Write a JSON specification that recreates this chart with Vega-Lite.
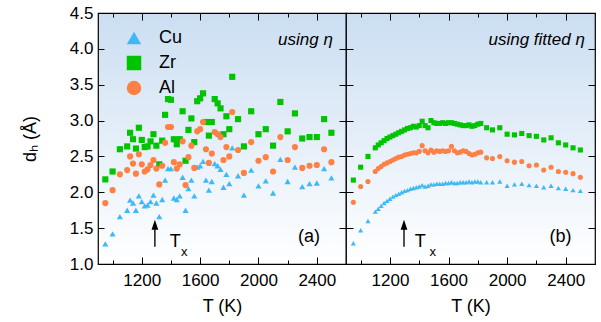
{
 "$schema": "https://vega.github.io/schema/vega-lite/v6.json",
 "padding": {"left": 20, "top": 3, "right": 5, "bottom": 3},
 "background": "white",
 "spacing": 0,
 "bounds": "flush",
 "config": {
  "font": "Liberation Sans",
  "view": {"stroke": "black", "strokeWidth": 1.2, "fill": {"gradient": "linear", "x1": 0, "y1": 0, "x2": 0, "y2": 1, "stops": [{"offset": 0, "color": "#cbdef2"}, {"offset": 1, "color": "#ffffff"}]}},
  "axis": {"domain": false, "grid": false, "ticks": true, "tickColor": "black", "tickWidth": 1, "labelFont": "Liberation Sans", "labelFontSize": 17, "labelColor": "black", "titleFont": "Liberation Sans", "titleFontSize": 18, "titleFontWeight": "normal", "titleColor": "black", "labelFlush": false, "labelOverlap": false, "minExtent": 0},
  "legend": {"title": null, "symbolSize": 210, "labelFont": "Liberation Sans", "labelFontSize": 18, "labelColor": "black", "rowPadding": 7, "padding": 0, "symbolStrokeWidth": 0, "symbolOpacity": 1},
  "text": {"font": "Liberation Sans", "color": "black"}
 },
 "datasets": {
  "a": [
   {"T":950,"el":"Cu","d":1.28},{"T":1000,"el":"Cu","d":1.42},{"T":1050,"el":"Cu","d":1.66},{"T":1100,"el":"Cu","d":1.75},{"T":1120,"el":"Cu","d":1.89},{"T":1140,"el":"Cu","d":1.85},{"T":1160,"el":"Cu","d":1.75},{"T":1180,"el":"Cu","d":1.95},{"T":1200,"el":"Cu","d":1.87},{"T":1220,"el":"Cu","d":1.81},{"T":1240,"el":"Cu","d":1.82},{"T":1260,"el":"Cu","d":1.87},{"T":1280,"el":"Cu","d":1.96},{"T":1300,"el":"Cu","d":1.85},{"T":1320,"el":"Cu","d":1.66},{"T":1340,"el":"Cu","d":1.90},{"T":1360,"el":"Cu","d":2.17},{"T":1380,"el":"Cu","d":2.33},{"T":1400,"el":"Cu","d":2.33},{"T":1420,"el":"Cu","d":1.92},{"T":1440,"el":"Cu","d":1.90},{"T":1460,"el":"Cu","d":1.95},{"T":1480,"el":"Cu","d":2.21},{"T":1500,"el":"Cu","d":1.75},{"T":1520,"el":"Cu","d":2.05},{"T":1540,"el":"Cu","d":2.17},{"T":1560,"el":"Cu","d":1.95},{"T":1580,"el":"Cu","d":2.35},{"T":1600,"el":"Cu","d":2.37},{"T":1620,"el":"Cu","d":2.43},{"T":1640,"el":"Cu","d":2.17},{"T":1660,"el":"Cu","d":2.03},{"T":1680,"el":"Cu","d":2.15},{"T":1700,"el":"Cu","d":2.40},{"T":1720,"el":"Cu","d":2.37},{"T":1740,"el":"Cu","d":2.32},{"T":1760,"el":"Cu","d":2.07},{"T":1780,"el":"Cu","d":2.25},{"T":1800,"el":"Cu","d":2.12},{"T":1820,"el":"Cu","d":2.62},{"T":1860,"el":"Cu","d":2.23},{"T":1900,"el":"Cu","d":1.96},{"T":1950,"el":"Cu","d":2.31},{"T":2000,"el":"Cu","d":2.09},{"T":2050,"el":"Cu","d":2.16},{"T":2100,"el":"Cu","d":1.99},{"T":2150,"el":"Cu","d":2.46},{"T":2200,"el":"Cu","d":2.15},{"T":2250,"el":"Cu","d":2.35},{"T":2300,"el":"Cu","d":2.08},{"T":2350,"el":"Cu","d":2.12},{"T":2400,"el":"Cu","d":2.13},{"T":2450,"el":"Cu","d":2.33},{"T":2500,"el":"Cu","d":2.20},
   {"T":950,"el":"Zr","d":2.18},{"T":1000,"el":"Zr","d":2.29},{"T":1050,"el":"Zr","d":2.60},{"T":1100,"el":"Zr","d":2.64},{"T":1120,"el":"Zr","d":2.83},{"T":1140,"el":"Zr","d":2.74},{"T":1160,"el":"Zr","d":2.61},{"T":1180,"el":"Zr","d":2.90},{"T":1200,"el":"Zr","d":2.73},{"T":1220,"el":"Zr","d":2.63},{"T":1240,"el":"Zr","d":2.64},{"T":1260,"el":"Zr","d":2.71},{"T":1280,"el":"Zr","d":2.81},{"T":1300,"el":"Zr","d":2.65},{"T":1320,"el":"Zr","d":2.39},{"T":1340,"el":"Zr","d":2.72},{"T":1360,"el":"Zr","d":3.08},{"T":1380,"el":"Zr","d":3.30},{"T":1400,"el":"Zr","d":3.29},{"T":1420,"el":"Zr","d":2.74},{"T":1440,"el":"Zr","d":2.67},{"T":1460,"el":"Zr","d":2.74},{"T":1480,"el":"Zr","d":3.13},{"T":1500,"el":"Zr","d":2.44},{"T":1520,"el":"Zr","d":2.87},{"T":1540,"el":"Zr","d":3.03},{"T":1560,"el":"Zr","d":2.70},{"T":1580,"el":"Zr","d":3.27},{"T":1600,"el":"Zr","d":3.31},{"T":1620,"el":"Zr","d":3.38},{"T":1640,"el":"Zr","d":2.98},{"T":1660,"el":"Zr","d":2.79},{"T":1680,"el":"Zr","d":2.98},{"T":1700,"el":"Zr","d":3.30},{"T":1720,"el":"Zr","d":3.24},{"T":1740,"el":"Zr","d":3.17},{"T":1760,"el":"Zr","d":2.81},{"T":1780,"el":"Zr","d":3.06},{"T":1800,"el":"Zr","d":2.88},{"T":1820,"el":"Zr","d":3.61},{"T":1860,"el":"Zr","d":3.02},{"T":1900,"el":"Zr","d":2.64},{"T":1950,"el":"Zr","d":3.13},{"T":2000,"el":"Zr","d":2.81},{"T":2050,"el":"Zr","d":2.88},{"T":2100,"el":"Zr","d":2.65},{"T":2150,"el":"Zr","d":3.26},{"T":2200,"el":"Zr","d":2.85},{"T":2250,"el":"Zr","d":3.10},{"T":2300,"el":"Zr","d":2.75},{"T":2350,"el":"Zr","d":2.77},{"T":2400,"el":"Zr","d":2.77},{"T":2450,"el":"Zr","d":3.02},{"T":2500,"el":"Zr","d":2.83},
   {"T":950,"el":"Al","d":1.85},{"T":1000,"el":"Al","d":2.03},{"T":1050,"el":"Al","d":2.25},{"T":1100,"el":"Al","d":2.31},{"T":1120,"el":"Al","d":2.50},{"T":1140,"el":"Al","d":2.40},{"T":1160,"el":"Al","d":2.26},{"T":1180,"el":"Al","d":2.53},{"T":1200,"el":"Al","d":2.39},{"T":1220,"el":"Al","d":2.29},{"T":1240,"el":"Al","d":2.32},{"T":1260,"el":"Al","d":2.38},{"T":1280,"el":"Al","d":2.45},{"T":1300,"el":"Al","d":2.33},{"T":1320,"el":"Al","d":2.11},{"T":1340,"el":"Al","d":2.37},{"T":1360,"el":"Al","d":2.69},{"T":1380,"el":"Al","d":2.91},{"T":1400,"el":"Al","d":2.91},{"T":1420,"el":"Al","d":2.42},{"T":1440,"el":"Al","d":2.33},{"T":1460,"el":"Al","d":2.39},{"T":1480,"el":"Al","d":2.71},{"T":1500,"el":"Al","d":2.10},{"T":1520,"el":"Al","d":2.49},{"T":1540,"el":"Al","d":2.65},{"T":1560,"el":"Al","d":2.34},{"T":1580,"el":"Al","d":2.85},{"T":1600,"el":"Al","d":2.88},{"T":1620,"el":"Al","d":2.98},{"T":1640,"el":"Al","d":2.60},{"T":1660,"el":"Al","d":2.41},{"T":1680,"el":"Al","d":2.54},{"T":1700,"el":"Al","d":2.84},{"T":1720,"el":"Al","d":2.81},{"T":1740,"el":"Al","d":2.77},{"T":1760,"el":"Al","d":2.45},{"T":1780,"el":"Al","d":2.63},{"T":1800,"el":"Al","d":2.50},{"T":1820,"el":"Al","d":3.12},{"T":1860,"el":"Al","d":2.59},{"T":1900,"el":"Al","d":2.27},{"T":1950,"el":"Al","d":2.70},{"T":2000,"el":"Al","d":2.44},{"T":2050,"el":"Al","d":2.49},{"T":2100,"el":"Al","d":2.29},{"T":2150,"el":"Al","d":2.77},{"T":2200,"el":"Al","d":2.45},{"T":2250,"el":"Al","d":2.63},{"T":2300,"el":"Al","d":2.34},{"T":2350,"el":"Al","d":2.37},{"T":2400,"el":"Al","d":2.38},{"T":2450,"el":"Al","d":2.60},{"T":2500,"el":"Al","d":2.42}
  ],
  "b": [
   {"T":950,"el":"Cu","d":1.29},{"T":1000,"el":"Cu","d":1.47},{"T":1050,"el":"Cu","d":1.60},{"T":1100,"el":"Cu","d":1.73},{"T":1120,"el":"Cu","d":1.77},{"T":1140,"el":"Cu","d":1.81},{"T":1160,"el":"Cu","d":1.85},{"T":1180,"el":"Cu","d":1.88},{"T":1200,"el":"Cu","d":1.91},{"T":1220,"el":"Cu","d":1.94},{"T":1240,"el":"Cu","d":1.96},{"T":1260,"el":"Cu","d":1.98},{"T":1280,"el":"Cu","d":2.00},{"T":1300,"el":"Cu","d":2.02},{"T":1320,"el":"Cu","d":2.03},{"T":1340,"el":"Cu","d":2.05},{"T":1360,"el":"Cu","d":2.06},{"T":1380,"el":"Cu","d":2.07},{"T":1400,"el":"Cu","d":2.08},{"T":1420,"el":"Cu","d":2.10},{"T":1440,"el":"Cu","d":2.08},{"T":1460,"el":"Cu","d":2.09},{"T":1480,"el":"Cu","d":2.11},{"T":1500,"el":"Cu","d":2.11},{"T":1520,"el":"Cu","d":2.12},{"T":1540,"el":"Cu","d":2.12},{"T":1560,"el":"Cu","d":2.12},{"T":1580,"el":"Cu","d":2.13},{"T":1600,"el":"Cu","d":2.13},{"T":1620,"el":"Cu","d":2.14},{"T":1640,"el":"Cu","d":2.13},{"T":1660,"el":"Cu","d":2.13},{"T":1680,"el":"Cu","d":2.14},{"T":1700,"el":"Cu","d":2.14},{"T":1720,"el":"Cu","d":2.14},{"T":1740,"el":"Cu","d":2.15},{"T":1760,"el":"Cu","d":2.14},{"T":1780,"el":"Cu","d":2.15},{"T":1800,"el":"Cu","d":2.15},{"T":1820,"el":"Cu","d":2.14},{"T":1860,"el":"Cu","d":2.14},{"T":1900,"el":"Cu","d":2.14},{"T":1950,"el":"Cu","d":2.15},{"T":2000,"el":"Cu","d":2.09},{"T":2050,"el":"Cu","d":2.11},{"T":2100,"el":"Cu","d":2.12},{"T":2150,"el":"Cu","d":2.10},{"T":2200,"el":"Cu","d":2.09},{"T":2250,"el":"Cu","d":2.07},{"T":2300,"el":"Cu","d":2.09},{"T":2350,"el":"Cu","d":2.06},{"T":2400,"el":"Cu","d":2.05},{"T":2450,"el":"Cu","d":2.03},{"T":2500,"el":"Cu","d":2.02},
   {"T":950,"el":"Zr","d":2.17},{"T":1000,"el":"Zr","d":2.35},{"T":1050,"el":"Zr","d":2.50},{"T":1100,"el":"Zr","d":2.62},{"T":1120,"el":"Zr","d":2.66},{"T":1140,"el":"Zr","d":2.69},{"T":1160,"el":"Zr","d":2.72},{"T":1180,"el":"Zr","d":2.75},{"T":1200,"el":"Zr","d":2.77},{"T":1220,"el":"Zr","d":2.79},{"T":1240,"el":"Zr","d":2.81},{"T":1260,"el":"Zr","d":2.83},{"T":1280,"el":"Zr","d":2.85},{"T":1300,"el":"Zr","d":2.87},{"T":1320,"el":"Zr","d":2.89},{"T":1340,"el":"Zr","d":2.90},{"T":1360,"el":"Zr","d":2.92},{"T":1380,"el":"Zr","d":2.91},{"T":1400,"el":"Zr","d":2.93},{"T":1420,"el":"Zr","d":2.99},{"T":1440,"el":"Zr","d":2.93},{"T":1460,"el":"Zr","d":2.90},{"T":1480,"el":"Zr","d":3.00},{"T":1500,"el":"Zr","d":2.97},{"T":1520,"el":"Zr","d":2.96},{"T":1540,"el":"Zr","d":2.96},{"T":1560,"el":"Zr","d":2.97},{"T":1580,"el":"Zr","d":2.96},{"T":1600,"el":"Zr","d":2.97},{"T":1620,"el":"Zr","d":2.97},{"T":1640,"el":"Zr","d":2.96},{"T":1660,"el":"Zr","d":2.95},{"T":1680,"el":"Zr","d":2.94},{"T":1700,"el":"Zr","d":2.93},{"T":1720,"el":"Zr","d":2.93},{"T":1740,"el":"Zr","d":2.94},{"T":1760,"el":"Zr","d":2.92},{"T":1780,"el":"Zr","d":2.93},{"T":1800,"el":"Zr","d":2.95},{"T":1820,"el":"Zr","d":2.96},{"T":1860,"el":"Zr","d":2.90},{"T":1900,"el":"Zr","d":2.87},{"T":1950,"el":"Zr","d":2.90},{"T":2000,"el":"Zr","d":2.81},{"T":2050,"el":"Zr","d":2.80},{"T":2100,"el":"Zr","d":2.82},{"T":2150,"el":"Zr","d":2.79},{"T":2200,"el":"Zr","d":2.78},{"T":2250,"el":"Zr","d":2.73},{"T":2300,"el":"Zr","d":2.76},{"T":2350,"el":"Zr","d":2.69},{"T":2400,"el":"Zr","d":2.66},{"T":2450,"el":"Zr","d":2.62},{"T":2500,"el":"Zr","d":2.59},
   {"T":950,"el":"Al","d":1.86},{"T":1000,"el":"Al","d":2.08},{"T":1050,"el":"Al","d":2.15},{"T":1100,"el":"Al","d":2.29},{"T":1120,"el":"Al","d":2.33},{"T":1140,"el":"Al","d":2.36},{"T":1160,"el":"Al","d":2.39},{"T":1180,"el":"Al","d":2.41},{"T":1200,"el":"Al","d":2.43},{"T":1220,"el":"Al","d":2.45},{"T":1240,"el":"Al","d":2.47},{"T":1260,"el":"Al","d":2.49},{"T":1280,"el":"Al","d":2.50},{"T":1300,"el":"Al","d":2.52},{"T":1320,"el":"Al","d":2.53},{"T":1340,"el":"Al","d":2.54},{"T":1360,"el":"Al","d":2.55},{"T":1380,"el":"Al","d":2.55},{"T":1400,"el":"Al","d":2.57},{"T":1420,"el":"Al","d":2.65},{"T":1440,"el":"Al","d":2.58},{"T":1460,"el":"Al","d":2.55},{"T":1480,"el":"Al","d":2.59},{"T":1500,"el":"Al","d":2.56},{"T":1520,"el":"Al","d":2.58},{"T":1540,"el":"Al","d":2.57},{"T":1560,"el":"Al","d":2.58},{"T":1580,"el":"Al","d":2.57},{"T":1600,"el":"Al","d":2.58},{"T":1620,"el":"Al","d":2.64},{"T":1640,"el":"Al","d":2.58},{"T":1660,"el":"Al","d":2.55},{"T":1680,"el":"Al","d":2.56},{"T":1700,"el":"Al","d":2.58},{"T":1720,"el":"Al","d":2.57},{"T":1740,"el":"Al","d":2.54},{"T":1760,"el":"Al","d":2.52},{"T":1780,"el":"Al","d":2.53},{"T":1800,"el":"Al","d":2.55},{"T":1820,"el":"Al","d":2.56},{"T":1860,"el":"Al","d":2.48},{"T":1900,"el":"Al","d":2.47},{"T":1950,"el":"Al","d":2.50},{"T":2000,"el":"Al","d":2.44},{"T":2050,"el":"Al","d":2.42},{"T":2100,"el":"Al","d":2.43},{"T":2150,"el":"Al","d":2.37},{"T":2200,"el":"Al","d":2.38},{"T":2250,"el":"Al","d":2.31},{"T":2300,"el":"Al","d":2.35},{"T":2350,"el":"Al","d":2.29},{"T":2400,"el":"Al","d":2.28},{"T":2450,"el":"Al","d":2.26},{"T":2500,"el":"Al","d":2.21}
  ]
 },
 "hconcat": [
  {
   "width": 248, "height": 251,
   "resolve": {"axis": {"x": "independent", "y": "independent"}},
   "layer": [
    {
     "data": {"name": "a"},
     "mark": {"type": "point", "filled": true, "opacity": 1, "size": 38, "strokeWidth": 0},
     "encoding": {
      "x": {"field": "T", "type": "quantitative", "scale": {"domain": [900, 2600], "nice": false, "zero": false},
            "axis": {"orient": "bottom", "values": [1000,1200,1400,1600,1800,2000,2200,2400], "labelExpr": "datum.value % 400 === 0 ? format(datum.value, 'd') : ''", "tickSize": {"condition": {"test": "datum.value % 400 === 0", "value": -7}, "value": -4}, "labelPadding": 15, "title": "T (K)", "titlePadding": 6}},
      "y": {"field": "d", "type": "quantitative", "scale": {"domain": [1, 4.5], "nice": false, "zero": false},
            "axis": {"orient": "left", "values": [1,1.5,2,2.5,3,3.5,4,4.5], "format": ".1f", "tickSize": -6, "labelPadding": 11, "title": "dₕ (Å)", "titlePadding": 30}},
      "color": {"field": "el", "type": "nominal", "scale": {"domain": ["Cu","Zr","Al"], "range": ["#3fb9f6","#00c400","#fd8044"]},
                "legend": {"orient": "none", "legendX": 27, "legendY": 16, "labelOffset": 16}},
      "shape": {"field": "el", "type": "nominal", "scale": {"domain": ["Cu","Zr","Al"], "range": ["triangle-up","square","circle"]},
                "legend": {"orient": "none", "legendX": 27, "legendY": 16, "labelOffset": 16}}
     }
    },
    {
     "data": {"name": "a"},
     "mark": {"type": "point", "opacity": 0},
     "encoding": {
      "x": {"field": "T", "type": "quantitative", "axis": {"orient": "top", "labels": false, "title": null, "values": [1000,1200,1400,1600,1800,2000,2200,2400], "tickSize": {"condition": {"test": "datum.value % 400 === 0", "value": -7}, "value": -4}}},
      "y": {"field": "d", "type": "quantitative", "axis": {"orient": "right", "labels": false, "title": null, "values": [1,1.5,2,2.5,3,3.5,4,4.5], "tickSize": -7}}
     }
    },
    {
     "data": {"values": [{"T": 2510, "d": 4.13, "s": "using η"}]},
     "mark": {"type": "text", "align": "right", "baseline": "middle", "fontSize": 17, "fontStyle": "italic"},
     "encoding": {"x": {"field": "T", "type": "quantitative", "axis": null}, "y": {"field": "d", "type": "quantitative", "axis": null}, "text": {"field": "s"}}
    },
    {
     "data": {"values": [{"T": 2346, "d": 1.37, "s": "(a)"}]},
     "mark": {"type": "text", "align": "center", "baseline": "middle", "fontSize": 18},
     "encoding": {"x": {"field": "T", "type": "quantitative", "axis": null}, "y": {"field": "d", "type": "quantitative", "axis": null}, "text": {"field": "s"}}
    },
    {
     "data": {"values": [{"T": 1290, "d": 1.43}]},
     "mark": {"type": "point", "filled": true, "color": "black", "opacity": 1, "size": 729, "strokeWidth": 0, "shape": "M0,-1L-0.25,-0.26L-0.05,-0.26L-0.05,1L0.05,1L0.05,-0.26L0.25,-0.26Z"},
     "encoding": {"x": {"field": "T", "type": "quantitative", "axis": null}, "y": {"field": "d", "type": "quantitative", "axis": null}}
    },
    {
     "data": {"values": [{"T": 1391, "d": 1.31, "s": "T"}]},
     "mark": {"type": "text", "align": "left", "baseline": "middle", "fontSize": 18},
     "encoding": {"x": {"field": "T", "type": "quantitative", "axis": null}, "y": {"field": "d", "type": "quantitative", "axis": null}, "text": {"field": "s"}}
    },
    {
     "data": {"values": [{"T": 1469, "d": 1.17, "s": "x"}]},
     "mark": {"type": "text", "align": "left", "baseline": "middle", "fontSize": 13},
     "encoding": {"x": {"field": "T", "type": "quantitative", "axis": null}, "y": {"field": "d", "type": "quantitative", "axis": null}, "text": {"field": "s"}}
    }
   ]
  },
  {
   "width": 249, "height": 251,
   "resolve": {"axis": {"x": "independent", "y": "independent"}},
   "layer": [
    {
     "data": {"name": "b"},
     "mark": {"type": "point", "filled": true, "opacity": 1, "size": 26, "strokeWidth": 0},
     "encoding": {
      "x": {"field": "T", "type": "quantitative", "scale": {"domain": [900, 2600], "nice": false, "zero": false},
            "axis": {"orient": "bottom", "values": [1000,1200,1400,1600,1800,2000,2200,2400], "labelExpr": "datum.value % 400 === 0 ? format(datum.value, 'd') : ''", "tickSize": {"condition": {"test": "datum.value % 400 === 0", "value": -7}, "value": -4}, "labelPadding": 15, "title": "T (K)", "titlePadding": 6}},
      "y": {"field": "d", "type": "quantitative", "scale": {"domain": [1, 4.5], "nice": false, "zero": false},
            "axis": {"orient": "left", "values": [1,1.5,2,2.5,3,3.5,4,4.5], "labels": false, "tickSize": -7, "title": null}},
      "color": {"field": "el", "type": "nominal", "scale": {"domain": ["Cu","Zr","Al"], "range": ["#3fb9f6","#00c400","#fd8044"]},
                "legend": {"orient": "none", "legendX": 31, "legendY": 16, "labelOffset": 10}},
      "shape": {"field": "el", "type": "nominal", "scale": {"domain": ["Cu","Zr","Al"], "range": ["triangle-up","square","circle"]},
                "legend": {"orient": "none", "legendX": 31, "legendY": 16, "labelOffset": 10}}
     }
    },
    {
     "data": {"name": "b"},
     "mark": {"type": "point", "opacity": 0},
     "encoding": {
      "x": {"field": "T", "type": "quantitative", "axis": {"orient": "top", "labels": false, "title": null, "values": [1000,1200,1400,1600,1800,2000,2200,2400], "tickSize": {"condition": {"test": "datum.value % 400 === 0", "value": -7}, "value": -4}}},
      "y": {"field": "d", "type": "quantitative", "axis": {"orient": "right", "labels": false, "title": null, "values": [1,1.5,2,2.5,3,3.5,4,4.5], "tickSize": -7}}
     }
    },
    {
     "data": {"values": [{"T": 2531, "d": 4.13, "s": "using fitted η"}]},
     "mark": {"type": "text", "align": "right", "baseline": "middle", "fontSize": 17, "fontStyle": "italic"},
     "encoding": {"x": {"field": "T", "type": "quantitative", "axis": null}, "y": {"field": "d", "type": "quantitative", "axis": null}, "text": {"field": "s"}}
    },
    {
     "data": {"values": [{"T": 2364, "d": 1.37, "s": "(b)"}]},
     "mark": {"type": "text", "align": "center", "baseline": "middle", "fontSize": 18},
     "encoding": {"x": {"field": "T", "type": "quantitative", "axis": null}, "y": {"field": "d", "type": "quantitative", "axis": null}, "text": {"field": "s"}}
    },
    {
     "data": {"values": [{"T": 1296, "d": 1.43}]},
     "mark": {"type": "point", "filled": true, "color": "black", "opacity": 1, "size": 729, "strokeWidth": 0, "shape": "M0,-1L-0.25,-0.26L-0.05,-0.26L-0.05,1L0.05,1L0.05,-0.26L0.25,-0.26Z"},
     "encoding": {"x": {"field": "T", "type": "quantitative", "axis": null}, "y": {"field": "d", "type": "quantitative", "axis": null}}
    },
    {
     "data": {"values": [{"T": 1369, "d": 1.31, "s": "T"}]},
     "mark": {"type": "text", "align": "left", "baseline": "middle", "fontSize": 18},
     "encoding": {"x": {"field": "T", "type": "quantitative", "axis": null}, "y": {"field": "d", "type": "quantitative", "axis": null}, "text": {"field": "s"}}
    },
    {
     "data": {"values": [{"T": 1470, "d": 1.17, "s": "x"}]},
     "mark": {"type": "text", "align": "left", "baseline": "middle", "fontSize": 13},
     "encoding": {"x": {"field": "T", "type": "quantitative", "axis": null}, "y": {"field": "d", "type": "quantitative", "axis": null}, "text": {"field": "s"}}
    }
   ]
  }
 ]
}
